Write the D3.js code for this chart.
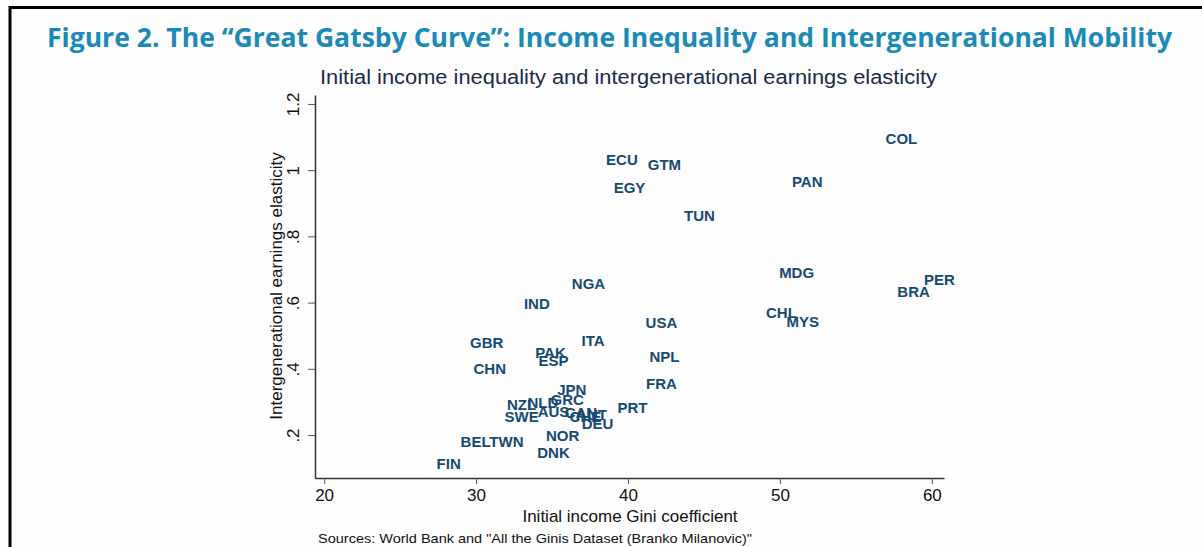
<!DOCTYPE html>
<html>
<head>
<meta charset="utf-8">
<script src="https://cdn.jsdelivr.net/npm/d3@7"></script>
<style>
  body { margin:0; background:#fdfdfd; }
  svg { display:block; }
</style>
</head>
<body>
<div id="chart"></div>
<script>
// country codes, Gini (x) and earnings elasticity (y)
const countries = ['COL','ECU','GTM','EGY','PAN','TUN','MDG','PER','BRA','NGA','IND','CHL','MYS','USA',
  'GBR','ITA','PAK','ESP','NPL','CHN','FRA','JPN','GRC','NLD','NZL','SWE','AUS','CAN','CHE','AUT','DEU',
  'PRT','NOR','DNK','BEL','TWN','FIN'];
const gini = [58.0, 39.6, 42.4, 40.1, 51.8, 44.7, 51.1, 60.5, 58.8, 37.4, 34.0, 50.1, 51.5, 42.2,
  30.7, 37.7, 34.9, 35.1, 42.4, 30.9, 42.2, 36.3, 36.0, 34.4, 33.0, 33.0, 35.1, 36.9, 37.2, 37.6, 38.0,
  40.3, 35.7, 35.1, 29.97, 32.0, 28.2];
const elasticity = [1.094, 1.03, 1.015, 0.946, 0.964, 0.861, 0.689, 0.668, 0.634, 0.656, 0.595, 0.568, 0.541, 0.538,
  0.480, 0.486, 0.450, 0.423, 0.435, 0.399, 0.356, 0.338, 0.308, 0.296, 0.290, 0.254, 0.269, 0.266, 0.254, 0.260, 0.233,
  0.281, 0.199, 0.145, 0.181, 0.181, 0.112];
const xTicks = [20, 30, 40, 50, 60];
const yTicks = [0.2, 0.4, 0.6, 0.8, 1, 1.2];

const W = 1202, H = 547;
const svg = d3.select('#chart').append('svg').attr('width', W).attr('height', H);

// frame lines
svg.append('line').attr('x1', 10).attr('x2', W).attr('y1', 7.5).attr('y2', 7.5)
  .attr('stroke', '#000').attr('stroke-width', 3);
svg.append('line').attr('x1', 10).attr('x2', 10).attr('y1', 6).attr('y2', H)
  .attr('stroke', '#000').attr('stroke-width', 3);

svg.append('text')
  .attr('x', 47).attr('y', 47)
  .attr('textLength', 1125).attr('lengthAdjust', 'spacingAndGlyphs')
  .attr('font-family', 'Open Sans').attr('font-weight', 'bold').attr('font-size', 27)
  .attr('fill', '#1b8ab6')
  .text('Figure 2. The \u201cGreat Gatsby Curve\u201d: Income Inequality and Intergenerational Mobility');

svg.append('text')
  .attr('x', 320).attr('y', 84)
  .attr('textLength', 617).attr('lengthAdjust', 'spacingAndGlyphs')
  .attr('font-family', 'Liberation Sans').attr('font-size', 20)
  .attr('fill', '#1a2a4c')
  .text('Initial income inequality and intergenerational earnings elasticity');

const x = d3.scaleLinear().domain([19.4, 60.8]).range([315, 944]);
const y = d3.scaleLinear().domain([0.0702, 1.227]).range([478, 95]);

const fmt = d => d === 1 ? '1' : d3.format('.1f')(d).replace(/^0/, '');

const xAxis = svg.append('g').attr('transform', 'translate(0,478)')
  .call(d3.axisBottom(x).tickValues(xTicks).tickSize(6).tickPadding(5).tickSizeOuter(0));
xAxis.select('.domain').attr('stroke', '#333').attr('stroke-width', 1.5);
xAxis.selectAll('.tick line').attr('stroke', '#555');
xAxis.selectAll('.tick text').attr('font-family', 'Liberation Sans').attr('font-size', 17).attr('fill', '#111');

const yAxis = svg.append('g').attr('transform', 'translate(315,0)')
  .call(d3.axisLeft(y).tickValues(yTicks).tickFormat(fmt).tickSize(7).tickPadding(0).tickSizeOuter(0));
yAxis.select('.domain').attr('stroke', '#333').attr('stroke-width', 1.5);
yAxis.selectAll('.tick line').attr('stroke', '#555');
yAxis.selectAll('.tick text')
  .attr('font-family', 'Liberation Sans').attr('font-size', 17).attr('fill', '#111')
  .attr('text-anchor', 'middle')
  .attr('transform', 'translate(-22,0) rotate(-90)').attr('x', 0).attr('y', 0).attr('dy', '0.35em');

svg.append('text')
  .attr('transform', 'translate(282,286) rotate(-90)').attr('text-anchor', 'middle')
  .attr('font-family', 'Liberation Sans').attr('font-size', 17).attr('fill', '#111')
  .text('Intergenerational earnings elasticity');

svg.append('text')
  .attr('x', 630).attr('y', 522).attr('text-anchor', 'middle')
  .attr('font-family', 'Liberation Sans').attr('font-size', 17).attr('fill', '#111')
  .text('Initial income Gini coefficient');

svg.append('text')
  .attr('x', 318).attr('y', 543)
  .attr('textLength', 434).attr('lengthAdjust', 'spacingAndGlyphs')
  .attr('font-family', 'Liberation Sans').attr('font-size', 13).attr('fill', '#111')
  .text('Sources: World Bank and "All the Ginis Dataset (Branko Milanovic)"');

// country labels centred on their points
svg.append('g').selectAll('text')
  .data(countries.map((c, i) => ({c, g: gini[i], e: elasticity[i]})))
  .enter().append('text')
  .attr('x', d => x(d.g)).attr('y', d => y(d.e))
  .attr('dy', '0.35em').attr('text-anchor', 'middle')
  .attr('font-family', 'Liberation Sans').attr('font-weight', 'bold').attr('font-size', 15)
  .attr('fill', '#174a72')
  .text(d => d.c);
</script>
</body>
</html>
